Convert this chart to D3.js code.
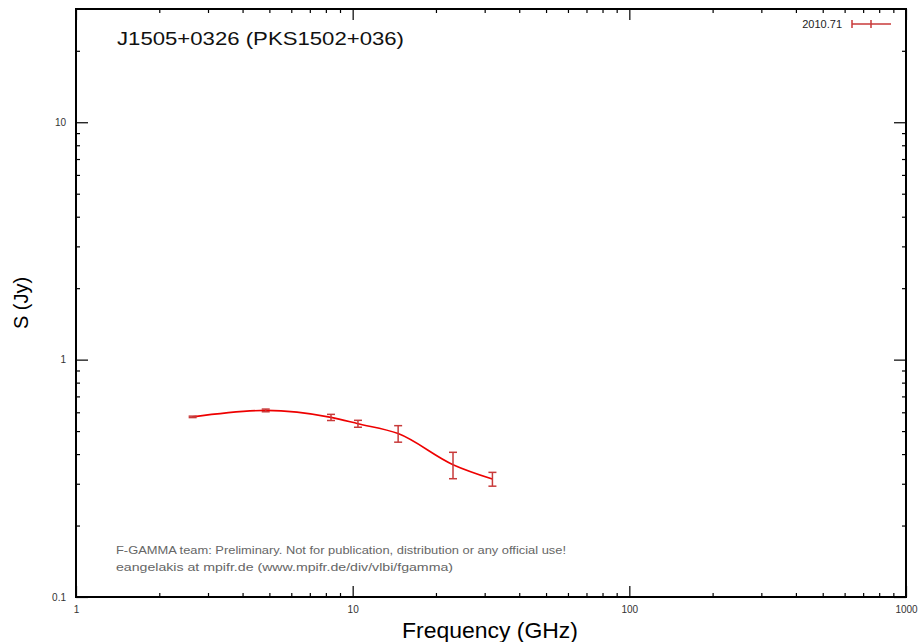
<!DOCTYPE html>
<html>
<head>
<meta charset="utf-8">
<script src="https://cdn.jsdelivr.net/npm/d3@7"></script>
<style>
  body { margin: 0; background: #fff; }
  svg { font-family: "Liberation Sans", Arial, sans-serif; }
</style>
</head>
<body>
<div id="chart"></div>
<script>
// spectrum values
const freq = [2.64, 4.85, 8.35, 10.45, 14.6, 23.05, 32.0];
const flux = [0.574, 0.611, 0.571, 0.537, 0.488, 0.361, 0.314];
const fluxErr = [0.004, 0.008, 0.017, 0.018, 0.039, 0.046, 0.021];

const xMajor = [1, 10, 100, 1000];
const xMajorLabels = ["1", "10", "100", "1000"];
const yMajor = [0.1, 1, 10];
const yMajorLabels = ["0.1", "1", "10"];

const title = "J1505+0326 (PKS1502+036)";
const legendLabel = "2010.71";
const footer = [
  "F-GAMMA team: Preliminary. Not for publication, distribution or any official use!",
  "eangelakis at mpifr.de (www.mpifr.de/div/vlbi/fgamma)"
];

const W = 919, H = 642;
const margin = { top: 9, right: 13, bottom: 45, left: 76 };
const width = W - margin.left - margin.right,
      height = H - margin.top - margin.bottom;

const svg = d3.select("#chart")
              .append("svg")
              .attr("width", W)
              .attr("height", H);

const g = svg.append("g")
             .attr("transform", `translate(${margin.left},${margin.top})`);

const x = d3.scaleLog().domain([1, 1000]).range([0, width]);
const y = d3.scaleLog().domain([0.1, 30]).range([height, 0]);

// minor ticks 2..9 per decade
const xMinor = [];
[1, 10, 100].forEach(d => { for (let k = 2; k <= 9; k++) xMinor.push(d * k); });
const yMinor = [];
[0.1, 1, 10].forEach(d => { for (let k = 2; k <= 9; k++) if (d * k < 30) yMinor.push(d * k); });

function styleAxis(sel) {
  sel.select(".domain").remove();
  sel.selectAll(".tick line").attr("stroke", "#000").attr("stroke-width", 1.2);
  sel.selectAll(".tick text")
     .attr("fill", "#333")
     .style("font-size", "10px");
}

// bottom
g.append("g").attr("transform", `translate(0,${height})`)
 .call(d3.axisBottom(x).tickValues(xMajor).tickSize(-11).tickPadding(9)
         .tickFormat((d, i) => xMajorLabels[i]))
 .call(styleAxis);
g.append("g").attr("transform", `translate(0,${height})`)
 .call(d3.axisBottom(x).tickValues(xMinor).tickSize(-4).tickFormat(""))
 .call(styleAxis);
// top
g.append("g")
 .call(d3.axisTop(x).tickValues(xMajor).tickSize(-11).tickFormat(""))
 .call(styleAxis);
g.append("g")
 .call(d3.axisTop(x).tickValues(xMinor).tickSize(-4).tickFormat(""))
 .call(styleAxis);
// left
g.append("g")
 .call(d3.axisLeft(y).tickValues(yMajor).tickSize(-12).tickPadding(10)
         .tickFormat((d, i) => yMajorLabels[i]))
 .call(styleAxis);
g.append("g")
 .call(d3.axisLeft(y).tickValues(yMinor).tickSize(-4).tickFormat(""))
 .call(styleAxis);
// right
g.append("g").attr("transform", `translate(${width},0)`)
 .call(d3.axisRight(y).tickValues(yMajor).tickSize(-12).tickFormat(""))
 .call(styleAxis);
g.append("g").attr("transform", `translate(${width},0)`)
 .call(d3.axisRight(y).tickValues(yMinor).tickSize(-4).tickFormat(""))
 .call(styleAxis);

// frame
g.append("rect")
 .attr("width", width)
 .attr("height", height)
 .attr("fill", "none")
 .attr("stroke", "#000")
 .attr("stroke-width", 2);

// title
g.append("text")
 .attr("x", 41)
 .attr("y", 36)
 .attr("textLength", 287)
 .attr("lengthAdjust", "spacingAndGlyphs")
 .style("font-size", "19px")
 .attr("fill", "#111")
 .text(title);

// footer notes
g.selectAll("text.foot")
 .data(footer)
 .join("text")
 .attr("class", "foot")
 .attr("x", 40)
 .attr("y", (d, i) => 545 + i * 17)
 .attr("textLength", (d, i) => i === 0 ? 450 : 337)
 .attr("lengthAdjust", "spacingAndGlyphs")
 .style("font-size", "11px")
 .attr("fill", "#666")
 .text(d => d);

// axis labels
svg.append("text")
   .attr("x", 490)
   .attr("y", 638)
   .attr("text-anchor", "middle")
   .attr("textLength", 176)
   .attr("lengthAdjust", "spacingAndGlyphs")
   .style("font-size", "22px")
   .text("Frequency (GHz)");

svg.append("text")
   .attr("transform", "translate(28,303) rotate(-90)")
   .attr("text-anchor", "middle")
   .style("font-size", "20px")
   .text("S (Jy)");

// data
const pts = freq.map((f, i) => ({ f: f, s: flux[i], e: fluxErr[i] }));
const lineColor = "#ee0000", barColor = "#c83a3a";

g.append("path")
 .datum(pts)
 .attr("fill", "none")
 .attr("stroke", lineColor)
 .attr("stroke-width", 1.6)
 .attr("d", d3.line()
              .x(d => x(d.f))
              .y(d => y(d.s))
              .curve(d3.curveMonotoneX));

const bars = g.selectAll("g.err")
              .data(pts)
              .join("g")
              .attr("class", "err")
              .attr("stroke", barColor)
              .attr("stroke-width", 1.5);

bars.append("line")
    .attr("x1", d => x(d.f)).attr("x2", d => x(d.f))
    .attr("y1", d => y(d.s + d.e)).attr("y2", d => y(d.s - d.e));
bars.append("line")
    .attr("x1", d => x(d.f) - 4).attr("x2", d => x(d.f) + 4)
    .attr("y1", d => y(d.s + d.e)).attr("y2", d => y(d.s + d.e));
bars.append("line")
    .attr("x1", d => x(d.f) - 4).attr("x2", d => x(d.f) + 4)
    .attr("y1", d => y(d.s - d.e)).attr("y2", d => y(d.s - d.e));

// legend
const lg = svg.append("g").attr("transform", "translate(0,24)");
lg.append("text")
  .attr("x", 842)
  .attr("y", 4)
  .attr("text-anchor", "end")
  .style("font-size", "11px")
  .attr("fill", "#222")
  .text(legendLabel);
lg.append("line").attr("x1", 852).attr("x2", 891).attr("y1", 0).attr("y2", 0)
  .attr("stroke", barColor).attr("stroke-width", 1.5);
lg.append("line").attr("x1", 852).attr("x2", 852).attr("y1", -4).attr("y2", 4)
  .attr("stroke", barColor).attr("stroke-width", 1.5);
lg.append("line").attr("x1", 871).attr("x2", 871).attr("y1", -4).attr("y2", 4)
  .attr("stroke", barColor).attr("stroke-width", 1.5);
</script>
</body>
</html>
